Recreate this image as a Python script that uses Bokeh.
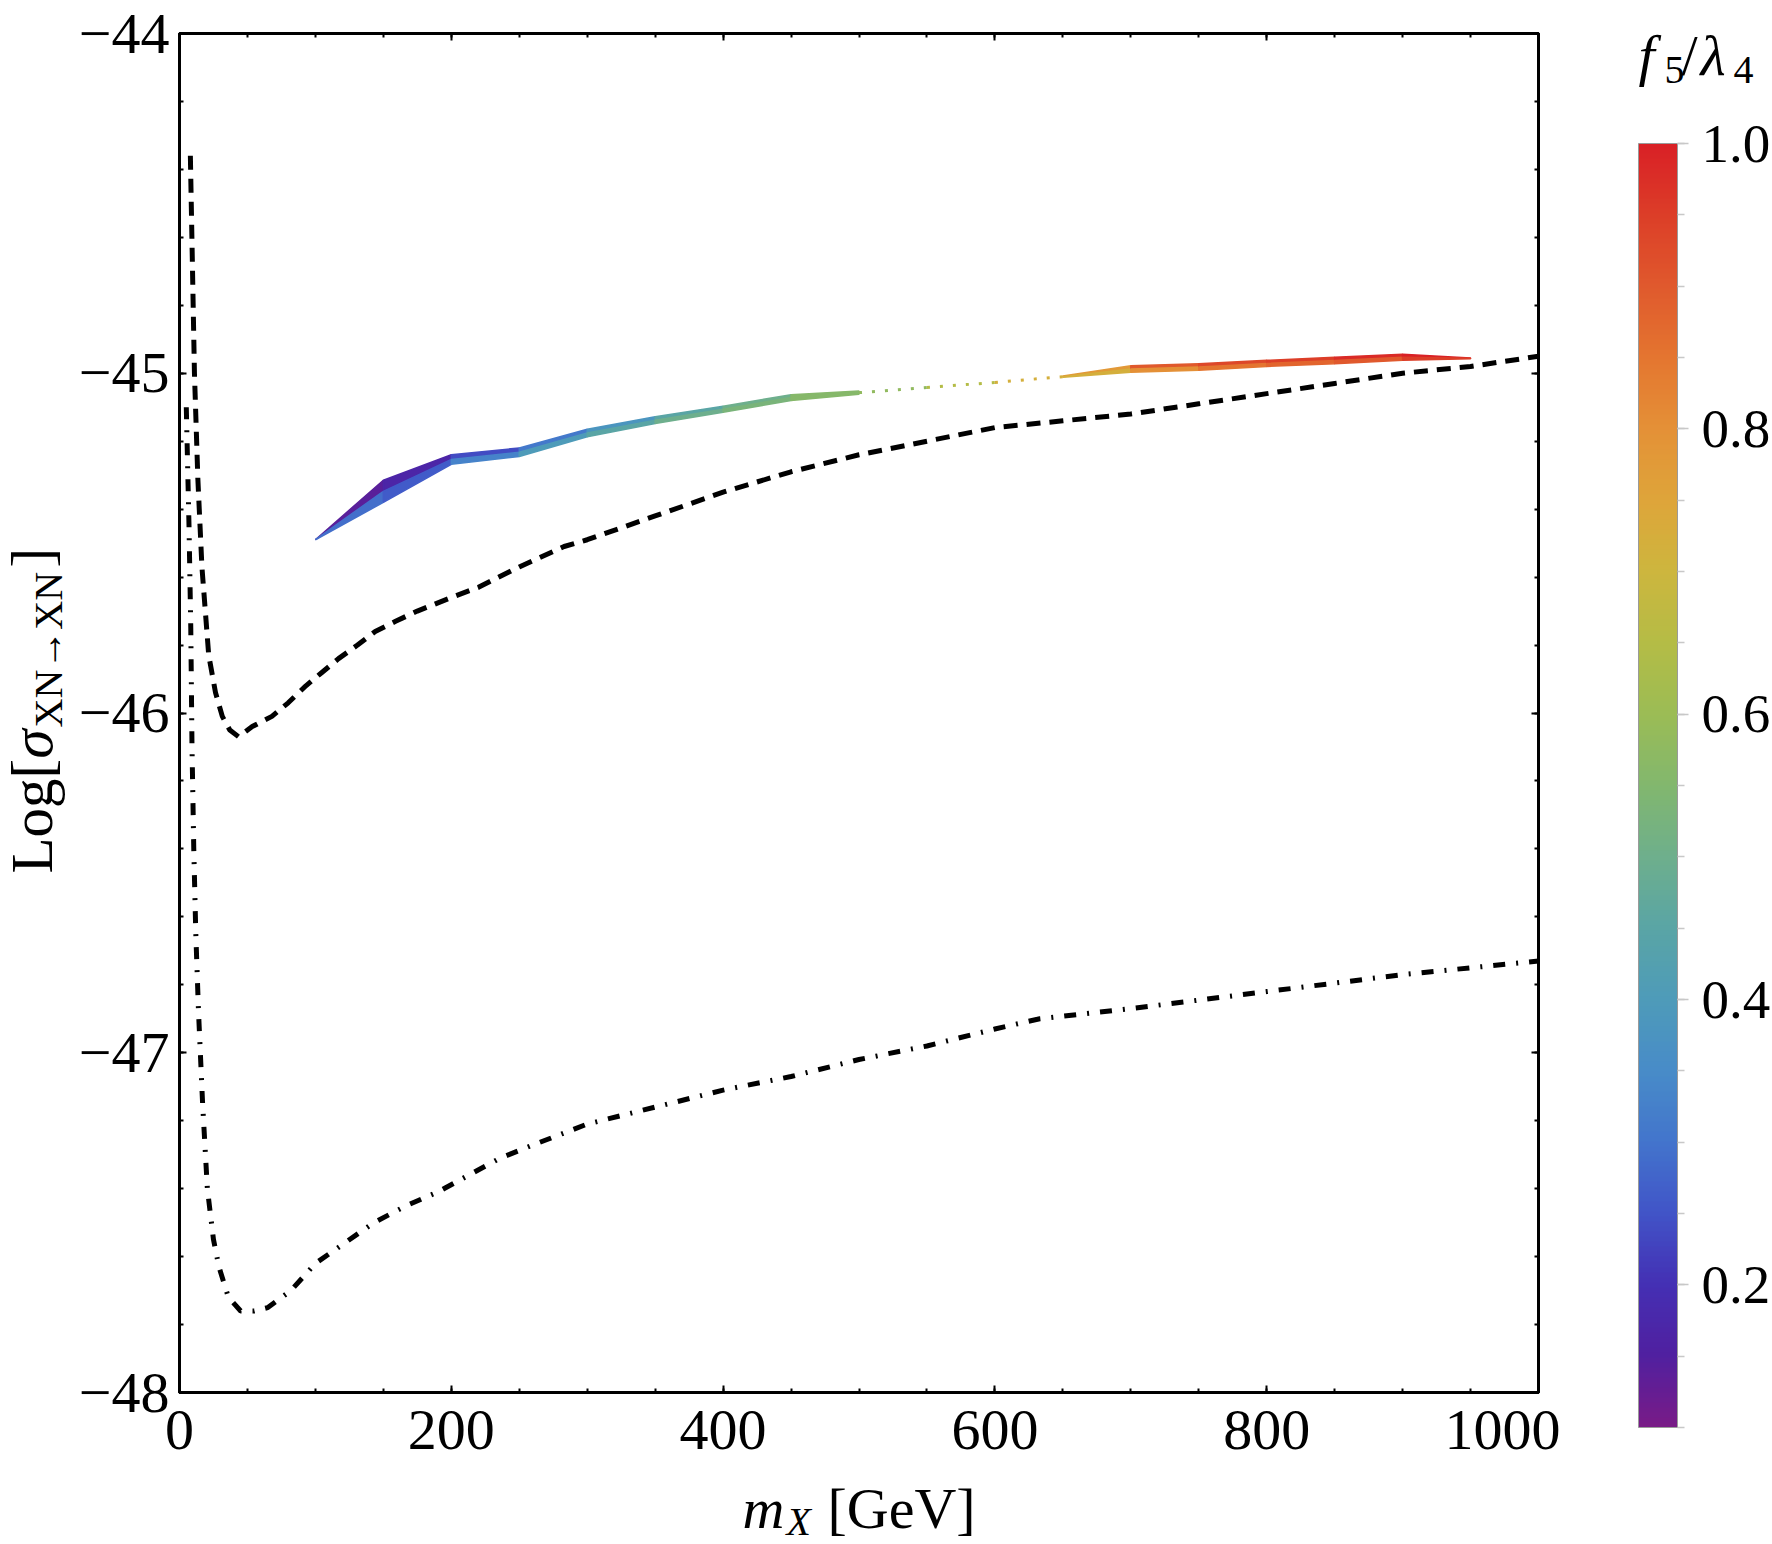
import math
import numpy as np
from bokeh.plotting import figure
from bokeh.layouts import row, column
from bokeh.models import (Range1d, FixedTicker, LinearAxis, ColorBar, LinearColorMapper,
                          PrintfTickFormatter, CustomJSTickFormatter, ColumnDataSource)
from bokeh.core.properties import value
from bokeh.embed import file_html
from bokeh.resources import INLINE

# ---------------- data ----------------
# dashed bound
dash_m = [8, 11, 13.5, 16.5, 19, 21.5, 26.5, 31.5, 37, 43.5, 53.5, 68, 80, 93, 105, 117,
          131, 144, 159, 175, 200, 220, 250, 283, 300, 350, 400, 450, 500, 550, 600, 650,
          700, 750, 800, 850, 900, 950, 1000]
dash_log = [-44.36, -45.00, -45.31, -45.57, -45.70, -45.83, -45.94, -46.01, -46.05, -46.07,
            -46.04, -46.01, -45.97, -45.92, -45.88, -45.84, -45.80, -45.76, -45.73, -45.70,
            -45.66, -45.63, -45.57, -45.51, -45.49, -45.42, -45.35, -45.29, -45.24, -45.20,
            -45.16, -45.14, -45.12, -45.09, -45.06, -45.03, -45.00, -44.98, -44.95]

# dash-dotted bound
dd_m = [5, 7, 8.3, 9.2, 10.5, 12, 14, 17, 20.5, 25, 29, 36, 45, 55, 65, 82, 100, 118, 143,
        167, 190, 213, 236, 261, 300, 350, 400, 450, 500, 550, 600, 633, 700, 800, 900, 1000]
dd_log = [-45.10, -45.45, -45.75, -46.10, -46.40, -46.65, -46.88, -47.15, -47.40, -47.55,
          -47.63, -47.72, -47.76, -47.76, -47.75, -47.70, -47.62, -47.57, -47.50, -47.45,
          -47.41, -47.36, -47.31, -47.27, -47.21, -47.16, -47.11, -47.07, -47.02, -46.98,
          -46.93, -46.90, -46.87, -46.82, -46.77, -46.73]

# coloured band (low-mass part): upper / lower edge at each mass, f5/lambda4 per segment
bandA_m = [100, 150, 200, 250, 300, 350, 400, 450, 500]
bandA_top = [-45.49, -45.315, -45.240, -45.220, -45.165, -45.128, -45.097, -45.063, -45.052]
bandA_bot = [-45.49, -45.380, -45.268, -45.245, -45.187, -45.148, -45.115, -45.080, -45.062]
bandA_ftop = [0.14, 0.17, 0.24, 0.31, 0.38, 0.45, 0.50, 0.56]
bandA_fbot = [0.29, 0.26, 0.33, 0.40, 0.45, 0.50, 0.53, 0.56]

# sparse middle part
sparse_m = [500, 550, 600, 650]
sparse_log = [-45.057, -45.042, -45.027, -45.010]
sparse_f = [0.58, 0.65, 0.72]

# coloured band (high-mass part)
bandB_m = [650, 700, 750, 800, 850, 900, 950]
bandB_top = [-45.008, -44.978, -44.972, -44.962, -44.953, -44.944, -44.955]
bandB_bot = [-45.012, -44.997, -44.991, -44.980, -44.972, -44.962, -44.957]
bandB_ftop = [0.78, 0.90, 0.93, 0.95, 0.98, 1.00]
bandB_fbot = [0.72, 0.80, 0.85, 0.88, 0.90, 0.95]

x_major = [0, 200, 400, 600, 800, 1000]
y_major = [-48, -47, -46, -45, -44]
cb_major = [0.2, 0.4, 0.6, 0.8, 1.0]
cb_low, cb_high = 0.1, 1.0

# ---------------- styling ----------------
SERIF = "Liberation Serif"
stops = [(0.10, (120, 27, 135)), (0.15, (80, 32, 160)), (0.20, (68, 48, 180)),
         (0.25, (65, 85, 200)), (0.30, (67, 117, 204)), (0.35, (72, 140, 200)),
         (0.40, (78, 155, 185)), (0.45, (90, 165, 165)), (0.50, (110, 175, 140)),
         (0.55, (130, 183, 110)), (0.60, (155, 188, 85)), (0.65, (180, 188, 70)),
         (0.70, (205, 182, 62)), (0.75, (222, 165, 58)), (0.80, (228, 145, 55)),
         (0.85, (228, 118, 48)), (0.90, (224, 90, 45)), (0.95, (220, 62, 40)),
         (1.00, (217, 33, 38))]
sf = np.array([s[0] for s in stops])
sc = np.array([s[1] for s in stops], dtype=float)
tt = np.linspace(cb_low, cb_high, 256)
palette = ["#%02x%02x%02x" % tuple(int(round(np.interp(t, sf, sc[:, k]))) for k in range(3))
           for t in tt]
mapper = LinearColorMapper(palette=palette, low=cb_low, high=cb_high)

# page layout (pixels)
W, H = 1772, 1544
FL, FR, FT, FB = 179, 1538, 33, 1392          # frame edges on the page
LEFT_W = 74                                    # strip holding the y label
MAIN_R = 1560                                  # right edge of main figure
MAIN_BOTTOM_BORDER = 84
MAIN_H = FT + (FB - FT) + MAIN_BOTTOM_BORDER   # 1476

p = figure(frame_width=FR - FL, frame_height=FB - FT,
           min_border_left=FL - LEFT_W, min_border_top=FT,
           min_border_right=MAIN_R - FR, min_border_bottom=MAIN_BOTTOM_BORDER,
           x_range=Range1d(0, 1000), y_range=Range1d(-48, -44),
           output_backend="svg", toolbar_location=None,
           background_fill_color="white", border_fill_color="white")
p.xgrid.visible = False
p.ygrid.visible = False
p.outline_line_color = "black"
p.outline_line_width = 3

x_minor = list(range(0, 1001, 50))
y_minor = [round(-48 + 0.2 * i, 2) for i in range(21)]

def style_axis(ax, labels):
    ax.axis_line_color = "black"
    ax.axis_line_width = 3
    ax.major_tick_in = 7
    ax.major_tick_out = 0
    ax.minor_tick_in = 4
    ax.minor_tick_out = 0
    ax.major_tick_line_width = 2
    ax.minor_tick_line_width = 2
    ax.major_tick_line_color = "black"
    ax.minor_tick_line_color = "black"
    ax.major_label_text_font = SERIF
    ax.major_label_text_font_size = "58px"
    ax.major_label_text_color = "black"
    if not labels:
        ax.formatter = CustomJSTickFormatter(code="return '';")
        ax.major_label_text_font_size = "1px"

minus_fmt = CustomJSTickFormatter(
    code="return tick < 0 ? '\u2212' + Math.abs(tick).toFixed(0) : tick.toFixed(0);")

xa = p.xaxis[0]
xa.ticker = FixedTicker(ticks=x_major, minor_ticks=x_minor)
style_axis(xa, True)
xa.major_label_standoff = 18
ya = p.yaxis[0]
ya.ticker = FixedTicker(ticks=y_major, minor_ticks=y_minor)
style_axis(ya, True)
ya.formatter = minus_fmt
ya.major_label_standoff = 10

top_ax = LinearAxis(ticker=FixedTicker(ticks=x_major, minor_ticks=x_minor))
style_axis(top_ax, False)
p.add_layout(top_ax, "above")
right_ax = LinearAxis(ticker=FixedTicker(ticks=y_major, minor_ticks=y_minor))
style_axis(right_ax, False)
p.add_layout(right_ax, "right")

# ---------------- coloured band ----------------
def band_patches(ms, tops, bots, ftop, fbot):
    xs, ys, fs = [], [], []
    for i in range(len(ms) - 1):
        m0, m1 = ms[i], ms[i + 1]
        c0 = 0.5 * (tops[i] + bots[i])
        c1 = 0.5 * (tops[i + 1] + bots[i + 1])
        xs.append([m0, m1, m1, m0]); ys.append([tops[i], tops[i + 1], c1, c0]); fs.append(ftop[i])
        xs.append([m0, m1, m1, m0]); ys.append([c0, c1, bots[i + 1], bots[i]]); fs.append(fbot[i])
    return xs, ys, fs

xa_, ya_, fa_ = band_patches(bandA_m, bandA_top, bandA_bot, bandA_ftop, bandA_fbot)
xb_, yb_, fb_ = band_patches(bandB_m, bandB_top, bandB_bot, bandB_ftop, bandB_fbot)
band_src = ColumnDataSource(dict(xs=xa_ + xb_, ys=ya_ + yb_, f=fa_ + fb_))
p.patches("xs", "ys", source=band_src,
          fill_color={"field": "f", "transform": mapper},
          line_color={"field": "f", "transform": mapper}, line_width=1.5)

sp_src = ColumnDataSource(dict(
    xs=[[sparse_m[i], sparse_m[i + 1]] for i in range(len(sparse_m) - 1)],
    ys=[[sparse_log[i], sparse_log[i + 1]] for i in range(len(sparse_log) - 1)],
    f=sparse_f))
p.multi_line("xs", "ys", source=sp_src, line_color={"field": "f", "transform": mapper},
             line_width=3, line_dash="3 10")

# ---------------- bounds ----------------
p.line(dash_m, dash_log, line_color="black", line_width=5, line_dash="14 9")
p.line(dd_m, dd_log, line_color="black", line_width=5, line_dash="12 11 2 11")

# ---------------- text strips (page-pixel coordinates) ----------------
def strip(width, height, xr, yr):
    s = figure(width=width, height=height, min_border=0,
               x_range=Range1d(*xr), y_range=Range1d(*yr),
               x_axis_location=None, y_axis_location=None,
               output_backend="svg", toolbar_location=None,
               background_fill_color="white", border_fill_color="white")
    s.outline_line_color = None
    s.grid.visible = False
    return s

BASE_SHIFT = 0.34   # measured offset of the renderer's alphabetic anchor, in em

def txt(fig, px, py, text, size, italic=False, rotated=False):
    s = float(size.replace("px", ""))
    if rotated:
        x, y, ang = px - BASE_SHIFT * s, py, math.pi / 2
    else:
        x, y, ang = px, py - BASE_SHIFT * s, 0.0
    fig.text(x=[x], y=[y], text=[text], text_font=value(SERIF),
             text_font_size=value(size), text_font_style="italic" if italic else "normal",
             text_color="black", text_align="left", text_baseline="alphabetic", angle=ang)

# left strip: full page height, page coordinates
left = strip(LEFT_W, H, (0, LEFT_W), (H, 0))
txt(left, 52, 873, "Log[", "59px", rotated=True)
txt(left, 52, 758, "σ", "59px", italic=True, rotated=True)
txt(left, 62, 727, "XN→XN", "40px", rotated=True)
txt(left, 52, 567, "]", "59px", rotated=True)

# right strip: full page height, page coordinates
right = strip(W - MAIN_R, H, (MAIN_R, W), (H, 0))
txt(right, 1638, 75, "f", "58px", italic=True)
txt(right, 1664, 83, "5", "40px")
txt(right, 1681, 75, "/", "58px")
txt(right, 1700, 75, "λ", "58px", italic=True)
txt(right, 1733, 83, "4", "40px")

# bottom strip under the main plot; its frame is aligned with the main frame
bottom = strip(MAIN_R - LEFT_W, H - MAIN_H, (FL, FR), (H, MAIN_H))
txt(bottom, 742, 1528, "m", "58px", italic=True)
txt(bottom, 786, 1535, "X", "40px", italic=True)
txt(bottom, 827, 1528, "[GeV]", "58px")

cb = ColorBar(color_mapper=mapper, width=39, height=1284, padding=0, margin=0,
              location=(1638 - MAIN_R, H - 1427),
              ticker=FixedTicker(ticks=cb_major,
                                 minor_ticks=[round(0.1 + 0.05 * i, 2) for i in range(19)]),
              formatter=PrintfTickFormatter(format="%.1f"),
              bar_line_color="#9a9a9a", bar_line_width=1,
              major_tick_in=0, major_tick_out=11, minor_tick_in=0, minor_tick_out=7,
              major_tick_line_color="#c8c8c8", minor_tick_line_color="#c8c8c8",
              major_tick_line_width=1.5, minor_tick_line_width=1.5,
              label_standoff=13,
              major_label_text_font=SERIF, major_label_text_font_size="55px",
              major_label_text_color="black",
              background_fill_color=None, border_line_color=None)
right.add_layout(cb, "center")

layout = row(left, column(p, bottom), right)
open("out.html", "w").write(file_html(layout, INLINE))
